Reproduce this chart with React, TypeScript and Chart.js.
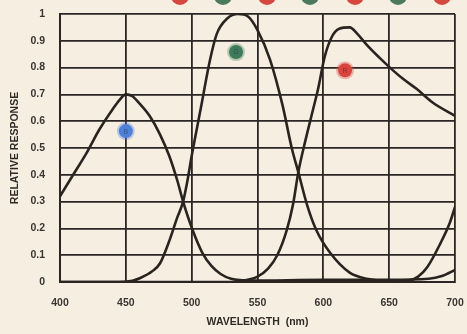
import React, { useEffect, useRef } from "react";
import { Chart, registerables } from "chart.js";
Chart.register(...registerables);

const blueCurve: [number, number][] = [
  [400, 0.32], [410, 0.40], [420, 0.48], [430, 0.57], [440, 0.645], [445, 0.678], [450, 0.70],
  [455, 0.693], [460, 0.668], [468, 0.62], [476, 0.55], [483, 0.47], [489, 0.38], [493.5, 0.30],
  [501, 0.19], [508, 0.11], [515, 0.06], [522, 0.03], [530, 0.012], [545, 0.005], [600, 0.008],
  [650, 0.008], [680, 0.012], [690, 0.022], [700, 0.045],
];
const greenCurve: [number, number][] = [
  [400, 0.0], [440, 0.0], [455, 0.005], [461, 0.015], [470, 0.04], [476, 0.07], [483.5, 0.16],
  [489, 0.24], [493.5, 0.30], [496.5, 0.37], [500, 0.47], [507, 0.65], [514, 0.83], [519, 0.925],
  [527, 0.983], [535, 1.0], [543, 0.99], [550, 0.94], [559.5, 0.83], [569, 0.66], [576, 0.5],
  [581, 0.41], [587.5, 0.29], [595, 0.19], [605, 0.11], [620, 0.035], [633, 0.012], [650, 0.005],
  [665, 0.006], [672, 0.02], [679, 0.056], [689, 0.145], [696, 0.22], [700, 0.28],
];
const redCurve: [number, number][] = [
  [400, 0.0], [530, 0.0], [540, 0.006], [550, 0.02], [558, 0.05], [565, 0.1], [572, 0.19],
  [577, 0.29], [581, 0.41], [586, 0.52], [592, 0.64], [596, 0.72], [601, 0.84], [606.5, 0.915],
  [612, 0.945], [620, 0.95], [626, 0.925], [633, 0.885], [642, 0.84], [650.6, 0.80], [660, 0.76],
  [671, 0.72], [683, 0.67], [700, 0.62],
];

const markerLetters = ["B", "G", "R"];
const markerX = [450, 533.7, 616.5];
const markerY = [0.563, 0.858, 0.79];
const markerColors = ["#4f7fd6", "#3f7a5c", "#d8453e"];

const topDotX = [180, 223, 267, 310, 355, 398, 442];
const topDotColors = ["#d4483f", "#4c7a5e", "#d4483f", "#4c7a5e", "#d4483f", "#4c7a5e", "#d4483f"];

const xTicks = [400, 450, 500, 550, 600, 650, 700];
const yTicks = [0, 0.1, 0.2, 0.3, 0.4, 0.5, 0.6, 0.7, 0.8, 0.9, 1];

const toPts = (arr: [number, number][]) => arr.map(([x, y]) => ({ x, y }));

export default function App() {
  const ref = useRef<HTMLCanvasElement>(null);
  useEffect(() => {
    document.body.style.margin = "0";
    document.body.style.background = "#f6efe1";
    const ctx = ref.current!;
    const deco = {
      id: "deco",
      beforeDraw(chart: any) {
        const c = chart.ctx;
        c.save();
        c.fillStyle = "#f6efe1";
        c.fillRect(0, 0, chart.width, chart.height);
        topDotX.forEach((x, i) => {
          c.beginPath();
          c.fillStyle = topDotColors[i];
          c.arc(x, -4, 9, 0, Math.PI * 2);
          c.fill();
        });
        c.restore();
      },
      afterDatasetsDraw(chart: any) {
        const c = chart.ctx;
        const xs = chart.scales.x;
        const ys = chart.scales.y;
        c.save();
        markerLetters.forEach((l, i) => {
          const px = xs.getPixelForValue(markerX[i]);
          const py = ys.getPixelForValue(markerY[i]);
          c.beginPath();
          c.fillStyle = markerColors[i];
          c.globalAlpha = 0.35;
          c.arc(px, py, 9, 0, Math.PI * 2);
          c.fill();
          c.globalAlpha = 1;
          c.beginPath();
          c.arc(px, py, 7, 0, Math.PI * 2);
          c.fill();
          c.fillStyle = "rgba(0,0,0,0.35)";
          c.font = "7px 'Liberation Sans'";
          c.textAlign = "center";
          c.textBaseline = "middle";
          c.fillText(l, px, py + 0.5);
        });
        c.restore();
      },
    };
    const mk = (data: [number, number][]) => ({
      data: toPts(data),
      borderColor: "#2a2421",
      borderWidth: 2.6,
      pointRadius: 0,
      fill: false,
      tension: 0.4,
      cubicInterpolationMode: "monotone" as const,
    });
    const tickFont = { family: "'Liberation Sans'", size: 10.5, weight: "bold" };
    const titleFont = { family: "'Liberation Sans'", size: 10.5, weight: "bold" };
    const chart = new Chart(ctx, {
      type: "line",
      data: { datasets: [mk(blueCurve), mk(greenCurve), mk(redCurve)] },
      plugins: [deco],
      options: {
        animation: false,
        responsive: false,
        maintainAspectRatio: false,
        layout: { padding: { left: 9, top: 14, right: 12, bottom: 0 } },
        plugins: { legend: { display: false }, tooltip: { enabled: false } },
        scales: {
          x: {
            type: "linear",
            min: 400,
            max: 700,
            afterBuildTicks: (s: any) => { s.ticks = xTicks.map((v) => ({ value: v })); },
            afterFit: (s: any) => { s.height = 52; s.paddingLeft = 0; s.paddingRight = 0; },
            grid: { color: "#2b2625", lineWidth: 1.8, drawTicks: false },
            border: { color: "#2b2625", width: 2 },
            ticks: {
              padding: 15,
              color: "#3a3533",
              font: tickFont,
              callback: (v: any) => String(v),
            },
            title: {
              display: true,
              text: "WAVELENGTH  (nm)",
              color: "#2f2a28",
              font: titleFont,
              padding: { top: 6, bottom: 6 },
            },
          },
          y: {
            min: 0,
            max: 1,
            afterBuildTicks: (s: any) => { s.ticks = yTicks.map((v) => ({ value: v })); },
            afterFit: (s: any) => { s.width = 51; s.paddingTop = 0; s.paddingBottom = 0; },
            grid: { color: "#2b2625", lineWidth: 1.8, drawTicks: false },
            border: { color: "#2b2625", width: 2 },
            ticks: {
              padding: 15,
              color: "#3a3533",
              font: tickFont,
              callback: (v: any) => {
                const r = Math.round(v * 10) / 10;
                return r === 0 ? "0" : r === 1 ? "1" : r.toFixed(1);
              },
            },
            title: {
              display: true,
              text: "RELATIVE RESPONSE",
              color: "#2f2a28",
              font: titleFont,
              padding: { top: 0, bottom: 0 },
            },
          },
        },
      },
    } as any);
    return () => chart.destroy();
  }, []);
  return (
    <div style={{ width: 467, height: 334, background: "#f6efe1" }}>
      <canvas ref={ref} width={467} height={334} style={{ display: "block" }} />
    </div>
  );
}
